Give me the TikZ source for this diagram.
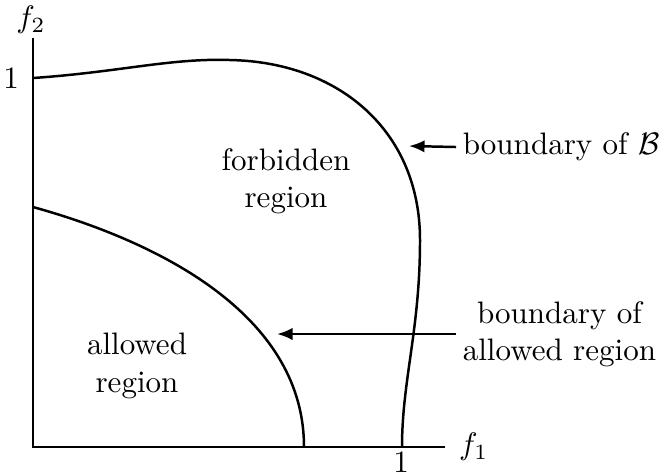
\documentclass[tikz,border=0pt]{standalone}
\usepackage{amsmath}
\usepackage{amssymb}
\usetikzlibrary{arrows.meta,positioning}

\begin{document}
\begin{tikzpicture}[
  x=0.3222pt, y=-0.3222pt,
  every node/.style={font=\normalsize},
  axis/.style={thick},
  bound/.style={thick},
  pointer/.style={thick, -{Latex[length=5pt,width=4pt]}},
  note/.style={align=center, inner sep=2pt}
]
\useasboundingbox (0,0) rectangle (664,475);

% axes
\coordinate (o) at (33,447);
\coordinate (xend) at (445,447);
\coordinate (yend) at (33,38);
\draw[axis] (xend) -- (o) -- (yend);
\node[right=1pt of xend] (f1) {$f_1$};
\node (f2) at (31,20) {$f_2$};

% ticks
\coordinate (yone) at (33,78);
\coordinate (xone) at (402,447);
\node[left=1pt of yone] (ytick) {1};
\node (xtick) at (401,462) {1};

% boundary of B
\coordinate (bpeak) at (230,60);
\coordinate (bside) at (420,240);
\draw[bound] (yone) .. controls (120,72) and (170,58) .. (bpeak)
  .. controls (338,62) and (420,130) .. (bside)
  .. controls (420,330) and (402,380) .. (xone);

% boundary of allowed region
\coordinate (astart) at (33,207);
\coordinate (aend) at (304,447);
\draw[bound] (astart) .. controls (170,245) and (304,320) .. (aend);

% region labels
\node[note] (forb) at (286,181) {forbidden\\region};
\node[note] (allow) at (137,366) {allowed\\region};

% pointers
\coordinate (btip) at (409,146);
\coordinate (atip) at (277,334);
\node[note, anchor=west] (blab) at (456,147) {boundary of $\mathcal{B}$};
\node[note, anchor=west] (alab) at (456,334) {boundary of\\allowed region};
\draw[pointer] (blab.west) -- (btip);
\draw[pointer] (alab.west) -- (atip);
\end{tikzpicture}
\end{document}
